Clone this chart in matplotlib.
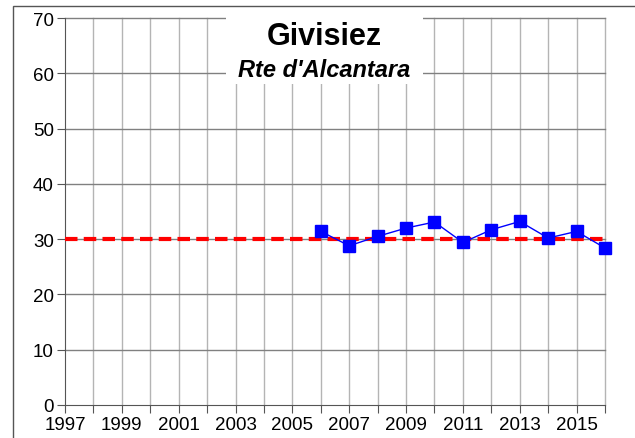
import matplotlib.pyplot as plt
from matplotlib.patches import Rectangle

plt.rcParams['font.family'] = ['Liberation Sans', 'DejaVu Sans']

years = [2006, 2007, 2008, 2009, 2010, 2011, 2012, 2013, 2014, 2015, 2016]
values = [31.4, 28.8, 30.5, 32.0, 33.1, 29.4, 31.7, 33.2, 30.2, 31.4, 28.4]
limit = 30
title = 'Givisiez'
subtitle = "Rte d'Alcantara"
xticks = list(range(1997, 2017, 2))

fig = plt.figure(figsize=(6.35, 4.39), dpi=100)
ax = fig.add_axes([65/635, 1-406/439, 540/635, 387/439])

# outer frame
fig.add_artist(Rectangle((13/635, -0.1), 1.1, 1-7/439+0.1, transform=fig.transFigure,
                         fill=False, edgecolor='#555555', lw=1))

ax.set_xlim(1997, 2016)
ax.set_ylim(0, 70)
for yr in range(1998, 2017):
    ax.axvline(yr, color='#b4b4b4', lw=1, zorder=1, clip_on=False)
for v in range(10, 71, 10):
    ax.axhline(v, color='#808080', lw=1, zorder=1, clip_on=False)

# title box hides the grid
ax.add_patch(Rectangle((226/635, 1-85/439), (423-226)/635, 0.2, transform=fig.transFigure,
                       facecolor='white', edgecolor='none', zorder=2, clip_on=False))
fig.text(324/635, 1-37/439, title, ha='center', va='center', fontsize=22, fontweight='bold', zorder=3)
fig.text(324/635, 1-71/439, subtitle, ha='center', va='center', fontsize=17,
         fontweight='bold', fontstyle='italic', zorder=3)

ax.axhline(limit, color='red', lw=3, ls=(0, (3, 1.5)), zorder=3)
ax.plot(years, values, color='blue', lw=1, marker='s', markersize=8.5, zorder=4, clip_on=False)

ax.set_xticks(range(1997, 2017))
ax.set_xticklabels([str(y) if y in xticks else '' for y in range(1997, 2017)])
ax.set_yticks(range(0, 71, 10))
ax.tick_params(axis='both', labelsize=13.5, direction='out', length=6, color='#555555', pad=2)
for s in ['top', 'right']:
    ax.spines[s].set_visible(False)
for s in ['left', 'bottom']:
    ax.spines[s].set_color('#555555')

fig.savefig('out.png', dpi=100)
